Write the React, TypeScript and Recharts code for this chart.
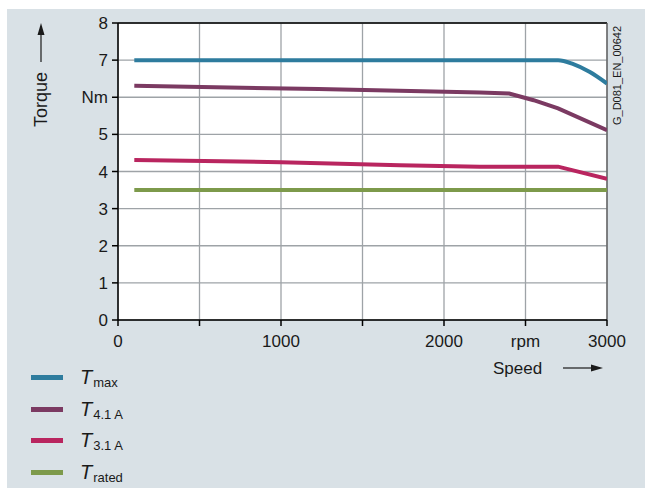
import { LineChart, Line, XAxis, YAxis, CartesianGrid, ReferenceLine } from 'recharts'

const speedTicks = [0, 500, 1000, 1500, 2000, 2500, 3000]
const speedTickLabels = ['0', '', '1000', '', '2000', 'rpm', '3000']
const torqueTicks = [0, 1, 2, 3, 4, 5, 6, 7, 8]
const torqueTickLabels = ['0', '1', '2', '3', '4', '5', 'Nm', '7', '8']

const tMax = [
  { speed: 100, torque: 7 },
  { speed: 2700, torque: 7 },
  { speed: 2790, torque: 6.9 },
  { speed: 2895, torque: 6.68 },
  { speed: 3000, torque: 6.37 },
]
const t41 = [
  { speed: 100, torque: 6.31 },
  { speed: 1230, torque: 6.22 },
  { speed: 2220, torque: 6.13 },
  { speed: 2400, torque: 6.1 },
  { speed: 2550, torque: 5.92 },
  { speed: 2700, torque: 5.7 },
  { speed: 3000, torque: 5.11 },
]
const t31 = [
  { speed: 100, torque: 4.31 },
  { speed: 1000, torque: 4.25 },
  { speed: 1730, torque: 4.17 },
  { speed: 2220, torque: 4.13 },
  { speed: 2700, torque: 4.13 },
  { speed: 3000, torque: 3.8 },
]
const tRated = [
  { speed: 100, torque: 3.5 },
  { speed: 3000, torque: 3.5 },
]

const series = [
  { key: 'max', sub: 'max', color: '#2e7c9e', curve: 'monotone', data: tMax },
  { key: 't41', sub: '4.1 A', color: '#7b3a62', curve: 'linear', data: t41 },
  { key: 't31', sub: '3.1 A', color: '#b9255f', curve: 'linear', data: t31 },
  { key: 'rated', sub: 'rated', color: '#7d9a4b', curve: 'linear', data: tRated },
]

const font = '"Liberation Sans", Arial, sans-serif'
const bg = '#d9e1e6'

function LegendBox() {
  return (
    <div style={{ fontFamily: font, color: '#1a1a1a' }}>
      {series.map(s => (
        <div key={s.key} style={{ display: 'flex', alignItems: 'center', height: 31.5 }}>
          <div style={{ width: 32, height: 5, background: s.color, marginRight: 17 }} />
          <span style={{ fontStyle: 'italic', fontSize: 20 }}>T</span>
          <span style={{ fontSize: 13, position: 'relative', top: 5, marginLeft: 1 }}>{s.sub}</span>
        </div>
      ))}
    </div>
  )
}

export default function App() {
  return (
    <div style={{ position: 'absolute', left: 0, top: 0, width: 645, height: 493, background: '#fff', overflow: 'hidden' }}>
      <div style={{ position: 'absolute', left: 7, top: 9, width: 638, height: 479, background: bg }} />
      {/* white plot panel */}
      <div style={{ position: 'absolute', left: 118, top: 23, width: 489, height: 297, background: '#fff' }} />
      <div style={{ position: 'absolute', left: 0, top: 0 }}>
        <LineChart width={645} height={493} margin={{ top: 23, right: 38, left: 78, bottom: 143 }}>
          <CartesianGrid stroke="#9ea3a7" strokeWidth={1.3} horizontalValues={torqueTicks} verticalValues={speedTicks} />
          <XAxis
            type="number"
            dataKey="speed"
            domain={[0, 3000]}
            ticks={speedTicks}
            tickFormatter={(v: number) => speedTickLabels[speedTicks.indexOf(v)]}
            interval={0}
            height={30}
            allowDataOverflow
            stroke="#000"
            strokeWidth={1.5}
            tickSize={6}
            tickMargin={9}
            tick={{ fontSize: 17, fill: '#1a1a1a', fontFamily: font }}
          />
          <YAxis
            type="number"
            dataKey="torque"
            domain={[0, 8]}
            ticks={torqueTicks}
            tickFormatter={(v: number) => torqueTickLabels[v]}
            interval={0}
            width={40}
            stroke="#000"
            strokeWidth={1.5}
            tickSize={6}
            tickMargin={4}
            tick={{ fontSize: 17, fill: '#1a1a1a', fontFamily: font }}
          />
          <ReferenceLine y={8} stroke="#000" strokeWidth={1.5} />
          <ReferenceLine x={3000} stroke="#555" strokeWidth={1.2} />
          {series.map(s => (
            <Line
              key={s.key}
              data={s.data}
              dataKey="torque"
              name={s.key}
              type={s.curve as 'monotone' | 'linear'}
              stroke={s.color}
              strokeWidth={4}
              dot={false}
              isAnimationActive={false}
            />
          ))}
        </LineChart>
      </div>
      <div style={{ position: 'absolute', left: 31, top: 362 }}>
        <LegendBox />
      </div>
      <svg width={645} height={493} style={{ position: 'absolute', left: 0, top: 0, pointerEvents: 'none' }}>
        <g fontFamily={font} fill="#1a1a1a">
          <text x={47} y={127} fontSize={18} transform="rotate(-90 47 127)">Torque</text>
          <line x1={41} y1={62} x2={41} y2={34} stroke="#1a1a1a" strokeWidth={1.2} />
          <polygon points="41,23 37.5,35 44.5,35" />
          <text x={493} y={374} fontSize={17}>Speed</text>
          <line x1={563} y1={368} x2={592} y2={368} stroke="#1a1a1a" strokeWidth={1.2} />
          <polygon points="603,368 591,364.5 591,371.5" />
          <text x={621} y={125} fontSize={11} transform="rotate(-90 621 125)">G_D081_EN_00642</text>
        </g>
      </svg>
    </div>
  )
}
